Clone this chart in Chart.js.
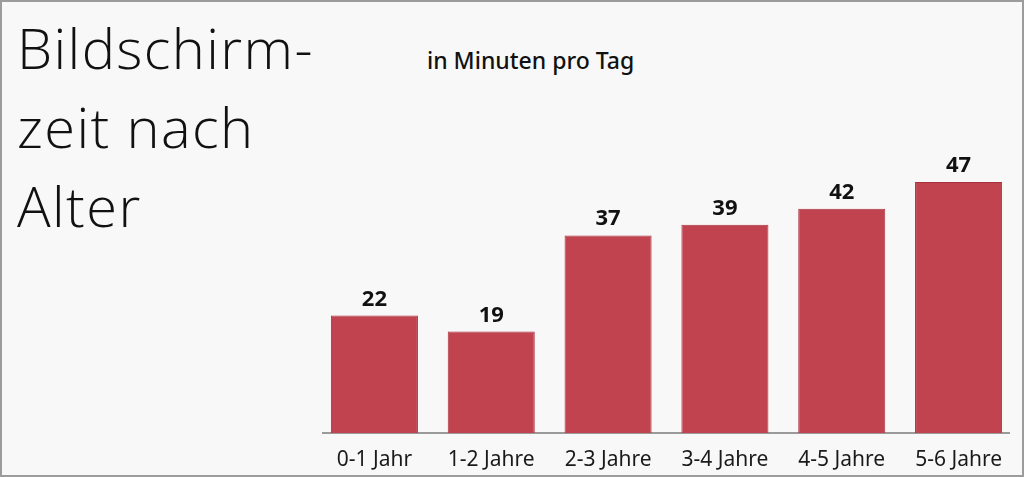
<!DOCTYPE html>
<html>
<head>
<meta charset="utf-8">
<script src="https://cdn.jsdelivr.net/npm/chart.js@4.4.1/dist/chart.umd.min.js"></script>
<style>
  html, body { margin: 0; padding: 0; background: #ffffff; }
  #frame {
    position: absolute; left: 0; top: 0;
    width: 1020px; height: 473px;
    border: 2px solid #9c9c9c;
    background: #f8f8f8;
    overflow: hidden;
  }
  #title {
    position: absolute; left: 15px; top: 6px;
    font-family: "Open Sans", sans-serif; font-weight: 300;
    font-size: 56px; line-height: 79px; letter-spacing: 1.4px; color: #111;
  }
  #subtitle {
    position: absolute; left: 425px; top: 42px;
    font-family: "Noto Sans", sans-serif; font-weight: 500;
    font-size: 23px; color: #111;
  }
  #chart { position: absolute; left: -2px; top: -2px; }
</style>
</head>
<body>
<div id="frame">
  <div id="title">Bildschirm-<br>zeit nach<br>Alter</div>
  <div id="subtitle">in Minuten pro Tag</div>
  <canvas id="chart" width="1024" height="477"></canvas>
</div>
<script>
// 🔹 DATA
const ageGroups = ["0-1 Jahr", "1-2 Jahre", "2-3 Jahre", "3-4 Jahre", "4-5 Jahre", "5-6 Jahre"];
const minutesPerDay = [22, 19, 37, 39, 42, 47];

// axis line, a bit shorter than the chart area
const baseLine = {
  id: "baseLine",
  beforeDatasetsDraw(chart) {
    const { ctx, chartArea } = chart;
    ctx.save();
    ctx.strokeStyle = "#9a9a9a";
    ctx.lineWidth = 2;
    ctx.beginPath();
    ctx.moveTo(chartArea.left + 6, chartArea.bottom);
    ctx.lineTo(chartArea.right - 7, chartArea.bottom);
    ctx.stroke();
    ctx.restore();
  }
};

// value labels above the bars
const valueLabels = {
  id: "valueLabels",
  afterDatasetsDraw(chart) {
    const ctx = chart.ctx;
    const meta = chart.getDatasetMeta(0);
    ctx.save();
    ctx.font = "bold 22px 'Noto Sans', sans-serif";
    ctx.fillStyle = "#111";
    ctx.textAlign = "center";
    ctx.textBaseline = "alphabetic";
    meta.data.forEach((bar, i) => {
      ctx.fillText(chart.data.datasets[0].data[i], bar.x, bar.y - 10);
    });
    ctx.restore();
  }
};

new Chart(document.getElementById("chart"), {
  type: "bar",
  data: {
    labels: ageGroups,
    datasets: [{
      data: minutesPerDay,
      backgroundColor: "#c1434f",
      borderColor: "#a9323e",
      borderWidth: 1,
      barPercentage: 0.745,
      categoryPercentage: 1
    }]
  },
  options: {
    responsive: false,
    animation: false,
    layout: { padding: { left: 316, right: 7, top: 166, bottom: 0 } },
    plugins: {
      legend: { display: false },
      tooltip: { enabled: false }
    },
    scales: {
      x: {
        grid: { display: false },
        border: { display: false },
        ticks: {
          color: "#1a1a1a",
          padding: 6,
          font: { family: "'Noto Sans', sans-serif", size: 21 }
        },
        afterFit(scale) { scale.height = 44; }
      },
      y: {
        display: false,
        min: 0,
        max: 50
      }
    }
  },
  plugins: [baseLine, valueLabels]
});
</script>
</body>
</html>
